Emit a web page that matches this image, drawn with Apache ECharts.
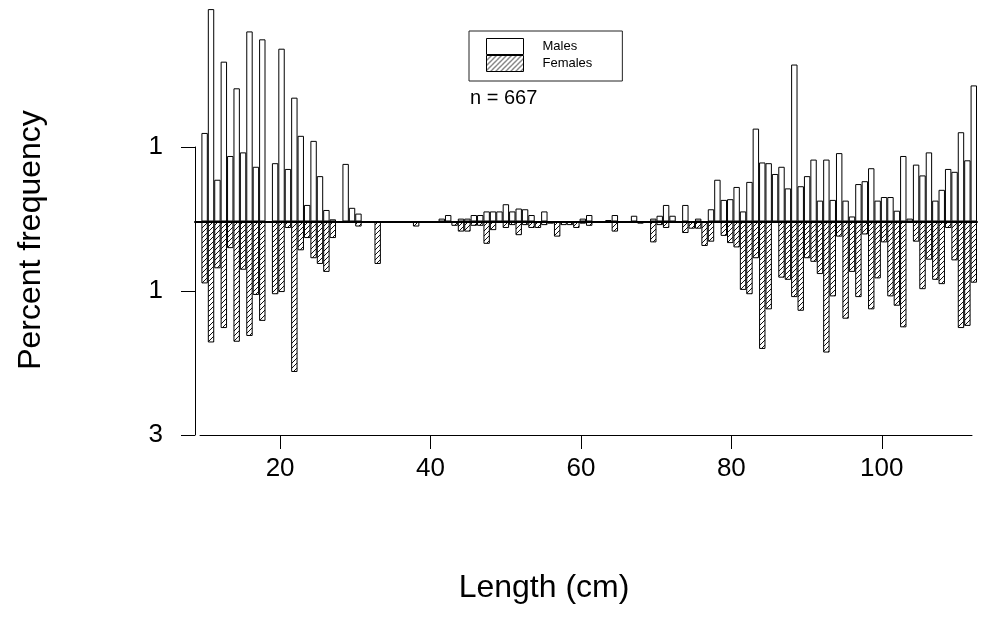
<!DOCTYPE html>
<html><head><meta charset="utf-8">
<script src="https://cdn.jsdelivr.net/npm/echarts@6/dist/echarts.min.js"></script>
<style>html,body{margin:0;padding:0;background:#fff}#c{width:1000px;height:623px}</style>
</head><body><div id="c"></div>
<script>
// Length classes (one bar per class, left to right)
const males = [0,
 1.23, 2.95, 0.58, 2.22, 0.91, 1.85, 0.96, 2.64, 0.76, 2.53,
 0, 0.81, 2.40, 0.73, 1.72, 1.19, 0.23, 1.12, 0.63, 0.16,
 0.03, 0, 0.80, 0.19, 0.11, 0, 0, 0, 0, 0,
 0, 0, 0, 0, 0, 0, 0, 0.04, 0.09, 0,
 0.04, 0.04, 0.09, 0.09, 0.14, 0.14, 0.14, 0.24, 0.14, 0.18,
 0.17, 0.09, 0, 0.14, 0, 0, 0, 0, 0, 0.04,
 0.09, 0, 0, 0.02, 0.09, 0, 0, 0.08, 0, 0,
 0.04, 0.08, 0.23, 0.08, 0, 0.23, 0, 0.04, 0, 0.17,
 0.58, 0.30, 0.31, 0.48, 0.14, 0.55, 1.29, 0.82, 0.81, 0.66,
 0.76, 0.46, 2.18, 0.49, 0.63, 0.86, 0.29, 0.86, 0.30, 0.95,
 0.29, 0.07, 0.52, 0.56, 0.74, 0.29, 0.34, 0.34, 0.15, 0.91,
 0.04, 0.79, 0.64, 0.96, 0.29, 0.44, 0.73, 0.69, 1.24, 0.85,
 1.89];
const females = [0,
 0.86, 1.68, 0.65, 1.48, 0.37, 1.67, 0.67, 1.59, 1.02, 1.38,
 0, 1.01, 0.98, 0.09, 2.09, 0.40, 0.23, 0.51, 0.59, 0.70,
 0.23, 0, 0, 0, 0.07, 0, 0, 0.59, 0, 0,
 0, 0, 0, 0.07, 0, 0, 0, 0, 0, 0.06,
 0.14, 0.14, 0.06, 0.06, 0.31, 0.12, 0, 0.09, 0.05, 0.19,
 0.05, 0.09, 0.09, 0.05, 0.03, 0.21, 0.05, 0.05, 0.09, 0.03,
 0.06, 0, 0, 0, 0.14, 0, 0, 0, 0.03, 0,
 0.29, 0.05, 0.09, 0, 0, 0.16, 0.10, 0.10, 0.34, 0.28,
 0, 0.20, 0.30, 0.36, 0.95, 1.01, 0.51, 1.77, 1.22, 0,
 0.78, 0.81, 1.05, 1.24, 0.51, 0.56, 0.73, 1.82, 1.04, 0.21,
 1.35, 0.70, 1.05, 0.18, 1.22, 0.79, 0.29, 1.04, 1.17, 1.47,
 0, 0.28, 0.94, 0.53, 0.81, 0.87, 0.09, 0.54, 1.48, 1.45,
 0.85];
const classes = males.map((_, i) => String(i));
const xTickValues = [20, 40, 60, 80, 100];
const yTickValues = [-3, -1, 1];
const lengthExtent = [9.35, 112];
const legendNames = ['Males', 'Females'];
const sampleText = 'n = 667';

const FONT = "'Liberation Sans', Arial, Helvetica, sans-serif";
function hatchCanvas() {
  const s = 5;
  const c = document.createElement('canvas');
  c.width = s; c.height = s;
  const g = c.getContext('2d');
  g.fillStyle = '#fff'; g.fillRect(0, 0, s, s);
  g.strokeStyle = '#111'; g.lineWidth = 1;
  g.beginPath();
  g.moveTo(-1, s + 1); g.lineTo(s + 1, -1);
  g.moveTo(-1, 1); g.lineTo(1, -1);
  g.moveTo(s - 1, s + 1); g.lineTo(s + 1, s - 1);
  g.stroke();
  return c;
}

const chart = echarts.init(document.getElementById('c'), null, {renderer: 'canvas'});
chart.setOption({
  animation: false,
  backgroundColor: '#fff',
  textStyle: {fontFamily: FONT},
  title: {text: sampleText, left: 470, top: 88, padding: 0,
    textStyle: {fontSize: 20, fontWeight: 'normal', color: '#000', fontFamily: FONT}},
  legend: {
    data: legendNames, orient: 'vertical', left: 469, top: 31,
    itemWidth: 37, itemHeight: 16, itemGap: 0, icon: 'rect',
    padding: [7, 30, 9, 17], borderColor: '#222', borderWidth: 1,
    selectedMode: false,
    itemStyle: {borderWidth: 1, borderColor: '#000'},
    textStyle: {fontSize: 13, color: '#000', fontFamily: FONT, padding: [0, 0, 0, 14]}
  },
  grid: [
    {left: 195, right: 23, top: 5.5, bottom: 185.5, outerBoundsMode: 'none', containLabel: false},
    {left: 200, right: 28, top: 147, bottom: 188, outerBoundsMode: 'none', containLabel: false}
  ],
  xAxis: [
    {gridIndex: 0, type: 'category', data: classes, boundaryGap: true, z: 5,
      axisLine: {show: true, onZero: true, lineStyle: {color: '#000', width: 2}},
      axisTick: {show: false}, axisLabel: {show: false}, splitLine: {show: false}},
    {gridIndex: 1, type: 'value', min: lengthExtent[0], max: lengthExtent[1],
      axisLine: {show: true, onZero: false, lineStyle: {color: '#000', width: 1}},
      axisTick: {show: true, length: 14, customValues: xTickValues, lineStyle: {color: '#000'}},
      axisLabel: {show: true, customValues: xTickValues, fontSize: 26, color: '#000', margin: 21, fontFamily: FONT},
      splitLine: {show: false}}
  ],
  yAxis: [
    {gridIndex: 0, type: 'value', min: -3, max: 3, show: false, splitLine: {show: false}},
    {gridIndex: 1, type: 'value', min: yTickValues[0], max: yTickValues[yTickValues.length - 1], interval: 2, offset: 5,
      axisLine: {show: true, onZero: false, lineStyle: {color: '#000', width: 1}},
      axisTick: {show: true, length: 14, lineStyle: {color: '#000'}},
      axisLabel: {show: true, fontSize: 26, color: '#000', margin: 32, fontFamily: FONT,
        formatter: v => String(Math.abs(v))},
      splitLine: {show: false}}
  ],
  series: [
    {name: 'Males', type: 'bar', xAxisIndex: 0, yAxisIndex: 0, data: males,
      barCategoryGap: '0%', barGap: '-100%', silent: true,
      itemStyle: {color: '#fff', borderColor: '#000', borderWidth: 1}},
    {name: 'Females', type: 'bar', xAxisIndex: 0, yAxisIndex: 0, data: females.map(v => -v),
      barCategoryGap: '0%', barGap: '-100%', silent: true,
      itemStyle: {color: {image: hatchCanvas(), repeat: 'repeat'}, borderColor: '#000', borderWidth: 1}}
  ],
  graphic: [
    {type: 'text', x: 31, y: 240, rotation: Math.PI / 2, silent: true,
      style: {text: 'Percent frequency', fontSize: 32, fontFamily: FONT, fill: '#000', align: 'center', verticalAlign: 'middle'}},
    {type: 'text', x: 544, y: 588, silent: true,
      style: {text: 'Length (cm)', fontSize: 32, fontFamily: FONT, fill: '#000', align: 'center', verticalAlign: 'middle'}}
  ]
});
</script></body></html>
